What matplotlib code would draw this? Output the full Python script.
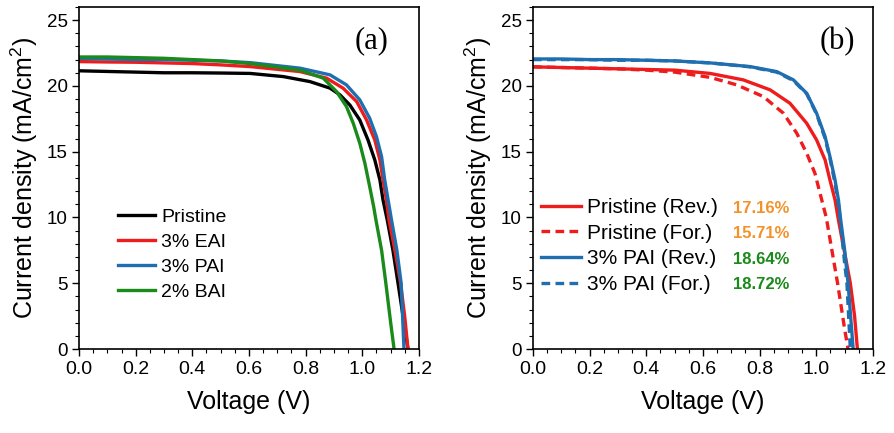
import numpy as np
import matplotlib
matplotlib.use("Agg")
import matplotlib.pyplot as plt
from matplotlib.ticker import MultipleLocator

plt.rcParams["font.family"] = ["Liberation Sans", "DejaVu Sans"]
plt.rcParams["mathtext.fontset"] = "custom"
plt.rcParams["mathtext.rm"] = "Liberation Sans"
plt.rcParams["mathtext.default"] = "regular"

# ---- panel (a): J-V curves of the four films (V in volts, J in mA/cm2)
vPristine = [0, 0.1, 0.2, 0.3, 0.4, 0.5, 0.604, 0.721, 0.815, 0.886, 0.921, 0.956, 0.991,
             1.02, 1.044, 1.062, 1.073, 1.088, 1.108, 1.126, 1.145, 1.161]
jPristine = [21.15, 21.1, 21.05, 21.0, 21.0, 20.98, 20.95, 20.71, 20.33, 19.83, 19.32, 18.55,
             17.41, 15.89, 14.37, 12.85, 11.33, 9.8, 7.5, 5.0, 2.3, 0]

vEai = [0, 0.1, 0.2, 0.3, 0.4, 0.5, 0.604, 0.78, 0.874, 0.932, 0.98, 1.015, 1.044, 1.062,
        1.073, 1.085, 1.094, 1.115, 1.135, 1.15, 1.161]
jEai = [21.85, 21.82, 21.8, 21.75, 21.7, 21.6, 21.47, 21.09, 20.59, 19.83, 18.81, 17.41,
        15.89, 14.37, 12.85, 11.33, 9.81, 7.5, 5.0, 2.4, 0]

vPai = [0, 0.1, 0.2, 0.3, 0.4, 0.5, 0.604, 0.78, 0.886, 0.944, 0.991, 1.026, 1.05, 1.068,
        1.079, 1.091, 1.103, 1.122, 1.137, 1.147]
jPai = [22.1, 22.05, 22.0, 22.0, 21.95, 21.9, 21.77, 21.35, 20.84, 20.08, 18.94, 17.54,
        16.14, 14.62, 12.85, 11.33, 9.81, 7.5, 5.0, 0]

vBai = [0, 0.1, 0.2, 0.3, 0.4, 0.5, 0.604, 0.78, 0.862, 0.909, 0.944, 0.968, 0.991, 1.009,
        1.026, 1.04, 1.048, 1.068, 1.083, 1.1, 1.112]
jBai = [22.2, 22.2, 22.15, 22.1, 22.0, 21.9, 21.7, 21.2, 20.59, 19.57, 18.43, 17.16, 15.64,
        14.12, 12.34, 10.82, 9.81, 7.5, 5.0, 2.0, 0]

labelsA = ["Pristine", "3% EAI", "3% PAI", "2% BAI"]

# ---- panel (b): reverse / forward scans
vPriRev = [0, 0.1, 0.2, 0.3, 0.4, 0.5, 0.625, 0.742, 0.837, 0.907, 0.966, 1.001, 1.031,
           1.048, 1.066, 1.078, 1.1, 1.12, 1.135, 1.145]
jPriRev = [21.45, 21.4, 21.35, 21.3, 21.25, 21.2, 20.95, 20.46, 19.7, 18.68, 17.16, 15.89,
           14.37, 12.85, 11.33, 9.81, 7.3, 5.0, 2.5, 0]

vPriFor = [0, 0.1, 0.2, 0.3, 0.4, 0.5, 0.625, 0.719, 0.813, 0.884, 0.931, 0.966, 0.995,
           1.013, 1.035, 1.055, 1.075, 1.1, 1.112]
jPriFor = [21.45, 21.4, 21.35, 21.3, 21.2, 21.05, 20.65, 20.08, 19.19, 17.92, 16.4, 14.88,
           13.36, 11.84, 10.0, 7.5, 5.0, 1.5, 0]

vPaiRev = [0, 0.1, 0.2, 0.3, 0.4, 0.5, 0.625, 0.766, 0.86, 0.919, 0.966, 1.001, 1.031,
           1.048, 1.066, 1.078, 1.086, 1.1, 1.112, 1.13]
jPaiRev = [22.05, 22.05, 22.0, 22.0, 21.95, 21.9, 21.75, 21.47, 21.09, 20.46, 19.44, 17.92,
           16.14, 14.62, 12.85, 11.33, 9.81, 7.5, 5.0, 0]

vPaiFor = [0, 0.1, 0.2, 0.3, 0.4, 0.5, 0.625, 0.766, 0.86, 0.919, 0.966, 1.001, 1.031,
           1.048, 1.066, 1.078, 1.086, 1.1, 1.108, 1.12]
jPaiFor = [22.0, 22.0, 22.0, 21.95, 21.95, 21.9, 21.75, 21.45, 21.05, 20.4, 19.4, 17.85,
           16.0, 14.5, 12.6, 11.0, 9.5, 6.5, 5.0, 0]

labelsB = ["Pristine (Rev.)", "Pristine (For.)", "3% PAI (Rev.)", "3% PAI (For.)"]
pceB = ["17.16%", "15.71%", "18.64%", "18.72%"]

RED = "#ee1c1c"
BLUE = "#1f6fb0"
GREEN = "#1a8a1a"
PCE_COLORS = ["#f3922a", "#f3922a", "#1a8a1a", "#1a8a1a"]


def StyleAxes(ax, tag, tagX):
    ax.set_xlim(0, 1.2)
    ax.set_ylim(0, 26)
    ax.xaxis.set_major_locator(MultipleLocator(0.2))
    ax.xaxis.set_minor_locator(MultipleLocator(0.05))
    ax.yaxis.set_major_locator(MultipleLocator(5))
    ax.yaxis.set_minor_locator(MultipleLocator(1))
    ax.set_xticks(np.arange(0, 1.21, 0.2))
    ax.set_xticklabels([f"{t:.1f}" for t in np.arange(0, 1.21, 0.2)])
    ax.tick_params(which="major", direction="out", length=5, width=1, top=False, right=False)
    ax.tick_params(which="minor", direction="out", length=3, width=0.8, top=False, right=False)
    ax.tick_params(axis="x", labelsize=14, pad=4)
    ax.tick_params(axis="y", labelsize=13.5, pad=3)
    for s in ax.spines.values():
        s.set_linewidth(1.2)
    ax.set_xlabel("Voltage (V)", fontsize=18, labelpad=8)
    ax.set_ylabel("Current density (mA/cm$^2$)", fontsize=18, labelpad=5)
    ax.text(tagX, 0.9, tag, transform=ax.transAxes, ha="center", va="center",
            fontsize=22, family=["Liberation Serif", "DejaVu Serif"])


fig = plt.figure(figsize=(8.95, 4.33), dpi=100)
axA = fig.add_axes([79 / 895, 84 / 433, 340 / 895, 342 / 433])
axB = fig.add_axes([533 / 895, 84 / 433, 340 / 895, 342 / 433])

lw = 2.4
axA.plot(vPristine, jPristine, color="black", lw=lw, label=labelsA[0])
axA.plot(vEai, jEai, color=RED, lw=lw, label=labelsA[1])
axA.plot(vPai, jPai, color=BLUE, lw=lw, label=labelsA[2])
axA.plot(vBai, jBai, color=GREEN, lw=lw, label=labelsA[3])
StyleAxes(axA, "(a)", 0.86)
axA.legend(loc="center left", bbox_to_anchor=(0.115, 0.276), frameon=False, fontsize=14,
           handlelength=1.9, handletextpad=0.3, labelspacing=0.38, borderpad=0, borderaxespad=0)

dash = (0, (2.6, 1.6))
axB.plot(vPriRev, jPriRev, color=RED, lw=lw, label=labelsB[0])
axB.plot(vPriFor, jPriFor, color=RED, lw=lw, ls=dash, label=labelsB[1])
axB.plot(vPaiRev, jPaiRev, color=BLUE, lw=lw, label=labelsB[2])
axB.plot(vPaiFor, jPaiFor, color=BLUE, lw=lw, ls=dash, label=labelsB[3])
StyleAxes(axB, "(b)", 0.894)
axB.legend(loc="center left", bbox_to_anchor=(0.025, 0.301), frameon=False, fontsize=15,
           handlelength=1.9, handletextpad=0.3, labelspacing=0.32, borderpad=0, borderaxespad=0)

pceY = [0.412, 0.339, 0.263, 0.190]
for txt, y, c in zip(pceB, pceY, PCE_COLORS):
    axB.text(0.588, y, txt, transform=axB.transAxes, ha="left", va="center",
             fontsize=12, fontweight="bold", color=c)

fig.savefig("out.png", dpi=100)
